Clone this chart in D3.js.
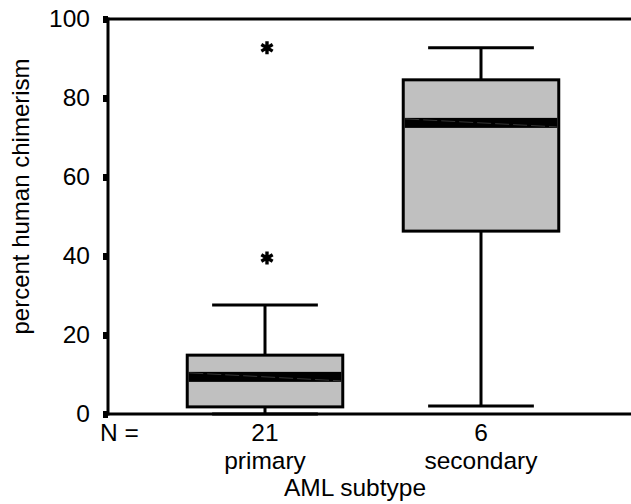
<!DOCTYPE html>
<html>
<head>
<meta charset="utf-8">
<script src="https://cdn.jsdelivr.net/npm/d3@7"></script>
<style>
  html, body { margin: 0; padding: 0; background: #fff; }
  svg { display: block; }
  text { font-family: "Liberation Sans", Arial, sans-serif; fill: #000; }
</style>
</head>
<body>
<svg id="chart" width="631" height="504"></svg>
<script>
// AML subtype vs. percent human chimerism (box plot summary statistics)
const categories = ["primary", "secondary"];
const counts = [21, 6];
const whiskerLow = [0, 2.0];
const q1 = [1.8, 46.3];
const median = [9.4, 73.7];
const q3 = [14.9, 84.6];
const whiskerHigh = [27.6, 92.7];
const outliers = [[92.7, 39.5], []];
const yTicks = [0, 20, 40, 60, 80, 100];

(function () {
  const svg = d3.select("#chart");
  const W = 631;
  const plotLeft = 108, plotTop = 19, plotBottom = 414;
  const fs = "24.5px";

  const y = d3.scaleLinear().domain([0, 100]).range([plotBottom, plotTop]);
  const x = d3.scaleBand().domain(categories).range([157, 589])
    .paddingInner(0.28).paddingOuter(0.14);

  const bw = x.bandwidth();
  const capW = bw * 0.68;

  const boxes = categories.map((c, i) => ({
    cat: c, n: counts[i], lo: whiskerLow[i], q1: q1[i], med: median[i],
    q3: q3[i], hi: whiskerHigh[i], out: outliers[i]
  }));

  const g = svg.append("g");

  // whiskers
  boxes.forEach(d => {
    const cx = x(d.cat) + bw / 2;
    const wg = g.append("g").attr("stroke", "#000").attr("stroke-width", 3);
    wg.append("line").attr("x1", cx).attr("x2", cx).attr("y1", y(d.q3)).attr("y2", y(d.hi));
    wg.append("line").attr("x1", cx).attr("x2", cx).attr("y1", y(d.q1)).attr("y2", y(d.lo));
    wg.append("line").attr("x1", cx - capW / 2).attr("x2", cx + capW / 2).attr("y1", y(d.hi)).attr("y2", y(d.hi));
    wg.append("line").attr("x1", cx - capW / 2).attr("x2", cx + capW / 2).attr("y1", y(d.lo)).attr("y2", y(d.lo));
  });

  // boxes with median band
  boxes.forEach(d => {
    const x0 = x(d.cat), x1 = x0 + bw;
    g.append("rect")
      .attr("x", x0).attr("y", y(d.q3))
      .attr("width", bw).attr("height", y(d.q1) - y(d.q3))
      .attr("fill", "#c0c0c0").attr("stroke", "#000").attr("stroke-width", 3);
    const mh = 10;
    const my = y(d.med);
    g.append("rect")
      .attr("x", x0 + 1.5).attr("y", my - mh / 2)
      .attr("width", bw - 3).attr("height", mh)
      .attr("fill", "#000");
    g.append("line")
      .attr("x1", x0 + 2).attr("y1", my - mh / 2 + 1)
      .attr("x2", x1 - 2).attr("y2", my + mh / 2 - 1)
      .attr("stroke", "#4a4a4a").attr("stroke-width", 0.7)
      .attr("stroke-dasharray", "14,4");
  });

  // outliers
  const star = d3.symbol().type(d3.symbolAsterisk).size(120);
  boxes.forEach(d => {
    const cx = x(d.cat) + bw / 2 + 2;
    g.selectAll(null).data(d.out).enter().append("path")
      .attr("d", star)
      .attr("transform", v => `translate(${cx},${y(v)})`)
      .attr("fill", "none").attr("stroke", "#000").attr("stroke-width", 3.4);
  });

  // frame lines
  svg.append("line").attr("x1", plotLeft).attr("x2", W).attr("y1", plotTop).attr("y2", plotTop)
    .attr("stroke", "#000").attr("stroke-width", 3);
  svg.append("line").attr("x1", plotLeft).attr("x2", W).attr("y1", plotBottom).attr("y2", plotBottom)
    .attr("stroke", "#000").attr("stroke-width", 3);

  // y axis
  const yAxis = d3.axisLeft(y).tickValues(yTicks).tickSize(5).tickPadding(13);
  const ya = svg.append("g").attr("transform", `translate(${plotLeft},0)`).call(yAxis);
  ya.select(".domain").attr("stroke", "#000").attr("stroke-width", 3)
    .attr("d", `M0,${plotTop - 1.5}V${plotBottom + 1.5}`);
  ya.selectAll(".tick line").attr("stroke", "#000").attr("stroke-width", 7);
  ya.selectAll(".tick text")
    .style("font-family", '"Liberation Sans", Arial, sans-serif')
    .style("font-size", fs).attr("fill", "#000");

  // y label
  svg.append("text")
    .attr("transform", `translate(29,${(plotTop + plotBottom) / 2 - 20}) rotate(-90)`)
    .attr("text-anchor", "middle")
    .style("font-size", "24px")
    .text("percent human chimerism");

  // N row and category labels
  svg.append("text").attr("x", 100).attr("y", 441).style("font-size", fs).text("N =");
  boxes.forEach(d => {
    const cx = x(d.cat) + bw / 2;
    svg.append("text").attr("x", cx).attr("y", 441).attr("text-anchor", "middle")
      .style("font-size", fs).text(d.n);
    svg.append("text").attr("x", cx).attr("y", 469).attr("text-anchor", "middle")
      .style("font-size", fs).text(d.cat);
  });

  // x label
  svg.append("text").attr("x", 355).attr("y", 496).attr("text-anchor", "middle")
    .style("font-size", fs).text("AML subtype");
})();
</script>
</body>
</html>
